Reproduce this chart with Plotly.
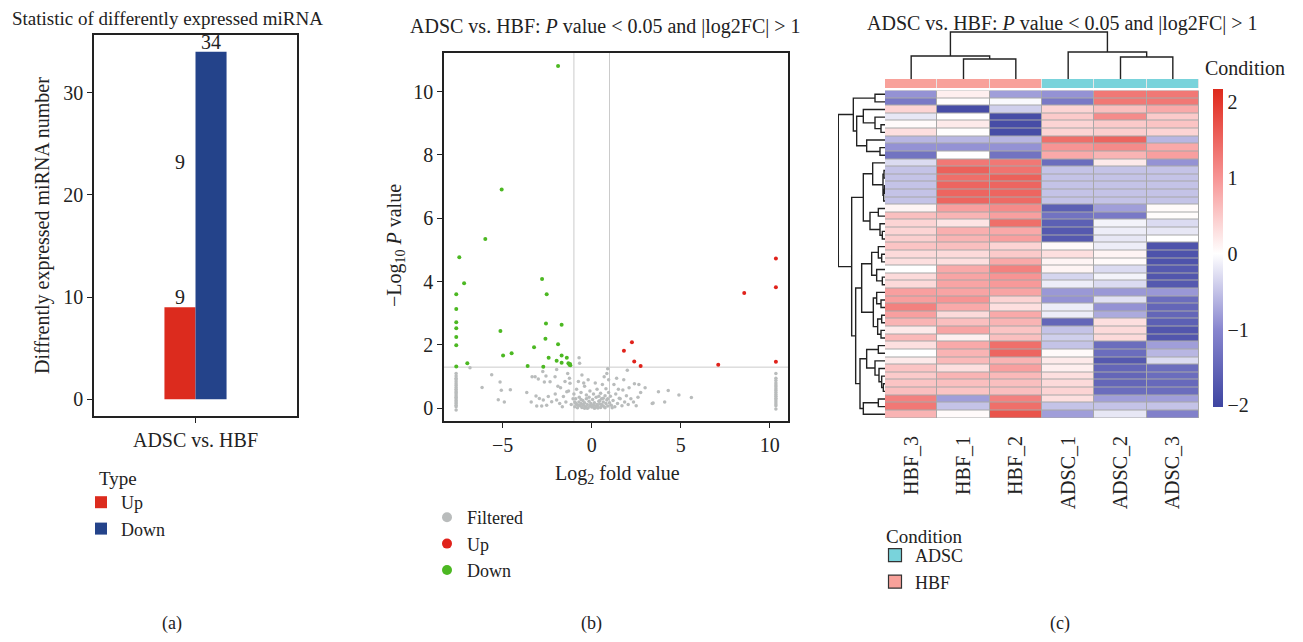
import math
import plotly.graph_objects as go

# the page adds an 8px body margin, so the figure is drawn 16px smaller
OFF = 8
W, H = 1303 - 2 * OFF, 642 - 2 * OFF
FONT = "Liberation Serif"

# ---- panel (a): counts of differently expressed miRNA
bar_types = ["Up", "Down"]
bar_counts = [9, 34]
bar_colors = ["#dc2b1e", "#24438a"]
# text labels as drawn in the original (one stray "9" sits mid-air)
label_text = ["9", "34", "9"]
label_group = [0, 1, 0]
label_y = [9, 34, 22.2]

# ---- panel (b): volcano plot
fc_cut = 1
p_cut = 0.05

down_x = [-1.89, -5.06, -5.98, -7.44, -7.17, -7.61, -7.61, -7.61, -7.61, -7.61, -7.61, -7.61,
          -6.99, -5.13, -4.98, -4.50, -2.79, -2.53, -2.57, -1.69, -2.60, -1.89, -3.24, -3.60,
          -2.72, -2.42, -1.97, -1.69, -1.69, -1.40, -1.31, -1.22, -1.25, -1.20]
down_y = [10.81, 6.91, 5.35, 4.77, 3.95, 3.60, 3.14, 2.72, 2.53, 2.25, 1.99, 1.32,
          1.42, 2.44, 1.67, 1.74, 4.08, 3.60, 2.68, 2.64, 2.20, 2.02, 1.93, 1.34,
          1.31, 1.60, 1.50, 1.67, 1.44, 1.60, 1.42, 1.40, 1.38, 1.36]

up_x = [10.35, 10.35, 8.57, 10.35, 7.11, 2.26, 1.81, 2.39, 2.75]
up_y = [4.73, 3.82, 3.64, 1.47, 1.38, 2.09, 1.82, 1.48, 1.34]

filt_x = ([-7.62] * 21 + [10.35] * 17 +
          [-6.84, -5.62, -5.15, -6.16, -5.08, -4.57, -5.25, -4.91, -3.65, -3.35, -3.18, -3.0,
           -2.75, -2.57, -2.66, -2.34, -1.97, -2.06,
           -0.95, -0.85, -0.8, -0.72, -0.65, -0.6, -0.55, -0.5, -0.45, -0.4, -0.35, -0.3,
           -0.25, -0.2, -0.15, -0.1, -0.05, 0.0, 0.05, 0.1, 0.15, 0.2, 0.25, 0.3, 0.35, 0.4,
           0.45, 0.5, 0.55, 0.6, 0.65, 0.7, 0.75, 0.8, 0.85, 0.9, 0.95, 1.0, -0.9, -0.7, -0.3,
           0.1, 0.5, -0.6, -0.1, 0.3, 0.8, -0.85, -0.4, 0.6, 0.95, 0.85, -0.75, -0.55, -0.45,
           0.2, -0.2, 0.7, -0.71, -0.68, 0.9, -0.95, -0.6, -0.15, 0.4, 0.65, 0.15, -0.4, 0.55,
           -0.75, 0.9, 1.05, -1.0, -0.25, 0.05, 0.35, -0.5, 0.25, 0.75, -0.9, 0.45,
           1.1, 1.2, 1.3, 1.35, 1.45, 1.5, 1.6, 1.7, 1.75, 1.85, 1.95, 2.05, 2.1, 2.2, 2.35,
           2.5, 2.6, 2.65, 2.75, 2.4, 3.0, 3.4, 3.45, 3.75, 4.1, 4.3, 4.9, 5.6, 1.4, 2.0, 1.8,
           1.25, 1.15, 1.55,
           -1.05, -1.15, -1.22, -1.3, -1.4, -1.45, -1.59, -1.65, -1.75, -1.8, -1.97, -2.05,
           -2.25, -2.44, -2.53, -2.72, -2.81, -2.94, -3.09, -3.13, -3.4, -1.35, -1.25, -1.5,
           -1.9])
filt_y = ([1.1, 1.02, 0.95, 0.9, 0.84, 0.78, 0.72, 0.66, 0.6, 0.55, 0.5, 0.45, 0.4, 0.35,
           0.3, 0.25, 0.2, 0.15, 0.1, 0.05, -0.05] +
          [1.1, 0.95, 0.88, 0.8, 0.74, 0.68, 0.62, 0.56, 0.5, 0.44, 0.38, 0.32, 0.26, 0.2,
           0.14, 0.08, -0.02] +
          [1.28, 1.06, 0.83, 0.66, 0.57, 0.59, 0.27, 0.2, 0.5, 1.0, 1.0, 0.93,
           1.16, 1.02, 0.83, 0.84, 1.23, 1.0,
           0.05, 0.12, 0.02, 0.2, 0.08, 0.15, 0.03, 0.25, 0.1, 0.18, 0.05, 0.3,
           0.12, 0.02, 0.22, 0.08, 0.15, 0.04, 0.28, 0.1, 0.18, 0.02, 0.35, 0.12, 0.06, 0.22,
           0.14, 0.03, 0.3, 0.09, 0.2, 0.05, 0.4, 0.15, 0.26, 0.07, 0.5, 0.18, 0.3, 0.35, 0.42,
           0.45, 0.48, 0.5, 0.55, 0.6, 0.62, 0.6, 0.7, 0.75, 0.9, 1.1, 0.85, 1.05, 0.8,
           0.8, 0.9, 1.0, 1.6, 1.42, 1.25, 0.2, 0.28, 0.35, 0.38, 0.32, 0.0, 0.0, 0.12,
           0.1, 0.3, 0.38, 0.45, 0.0, 0.1, 0.01, 0.12, 0.07, 0.02, 0.16, 0.24,
           0.1, 0.25, 0.05, 0.45, 0.15, 0.6, 0.3, 0.08, 0.58, 0.2, 0.4, 0.12, 0.65, 0.3, 0.2,
           0.08, 0.35, 0.75, 0.5, 0.78, 0.65, 0.15, 0.17, 0.52, 0.2, 0.56, 0.42, 0.34, 0.95,
           1.2, 0.9, 0.75, 0.02, 0.32,
           0.3, 0.12, 0.79, 0.55, 0.52, 0.2, 0.37, 0.05, 0.65, 0.15, 0.26, 0.45,
           0.21, 0.37, 0.1, 0.26, 0.07, 0.31, 0.07, 0.39, 0.2, 1.1, 0.95, 0.85,
           0.7])

# ---- panel (c): heatmap of z-scores
samples = ["HBF_3", "HBF_1", "HBF_2", "ADSC_1", "ADSC_2", "ADSC_3"]
conditions = ["HBF", "HBF", "HBF", "ADSC", "ADSC", "ADSC"]
cond_colors = {"ADSC": "#79d3db", "HBF": "#f8a19a"}
zscores = [
    [-0.9, 0.15, -0.8, -0.9, 1.3, 1.3],
    [-1.2, 0.02, -0.05, -1.2, 1.3, 1.3],
    [0.4, -1.9, -0.4, 0.4, 0.6, 0.8],
    [-0.2, 0.0, -1.9, 0.5, 1.1, 0.5],
    [0.05, 0.2, -1.9, 0.4, 0.5, 0.55],
    [0.3, 0.02, -1.9, 0.4, 0.45, 0.4],
    [-0.6, -0.6, -0.6, 1.4, 1.5, -0.6],
    [-0.9, -0.9, -0.9, 1.0, 1.1, 0.8],
    [-1.3, 0.0, -1.3, 0.8, 0.7, 0.9],
    [-0.3, 1.3, 1.3, -1.4, 0.2, -0.9],
    [-0.5, 1.55, 1.35, -0.5, -0.5, -0.5],
    [-0.5, 1.4, 1.55, -0.5, -0.5, -0.5],
    [-0.5, 1.5, 1.5, -0.5, -0.5, -0.5],
    [-0.5, 1.5, 1.5, -0.5, -0.5, -0.5],
    [-0.5, 1.5, 1.45, -0.5, -0.5, -0.5],
    [0.1, 0.9, 1.1, -1.6, -0.8, 0.05],
    [0.6, 0.7, 0.9, -1.3, -1.2, 0.03],
    [0.4, 0.25, 1.4, -1.6, -0.1, -0.3],
    [0.4, 0.75, 0.8, -1.7, -0.15, -0.2],
    [0.45, 0.7, 0.9, -1.7, -0.2, 0.0],
    [0.55, 0.6, 0.4, 0.05, -0.15, -1.8],
    [0.35, 0.35, 0.5, 0.3, 0.1, -1.8],
    [0.3, 0.3, 0.8, 0.1, 0.05, -1.8],
    [0.0, 0.8, 1.2, 0.1, -0.3, -1.7],
    [0.35, 0.85, 1.0, -0.35, -0.1, -1.75],
    [0.35, 0.85, 0.95, -0.15, -0.3, -1.7],
    [0.9, 0.85, 0.85, -0.85, -0.85, -0.85],
    [0.9, 1.0, 0.4, -0.9, -0.25, -1.4],
    [1.2, 0.8, 0.3, -0.15, -0.9, -1.5],
    [0.9, 0.35, 0.8, -0.15, -0.7, -1.5],
    [0.7, 0.6, 0.7, -1.5, 0.3, -1.6],
    [0.2, 0.85, 0.55, -0.5, 0.35, -1.75],
    [0.65, 0.15, 0.6, -0.4, 0.35, -1.75],
    [0.3, 0.8, 1.4, -0.5, -1.4, -0.8],
    [0.0, 0.7, 1.5, 0.05, -1.4, -0.6],
    [0.2, 0.65, 0.7, 0.2, -1.7, -0.3],
    [0.55, 0.3, 0.9, 0.15, -1.5, -1.4],
    [0.5, 0.7, 0.65, 0.3, -1.5, -1.4],
    [0.55, 0.6, 0.6, 0.35, -1.5, -1.45],
    [0.6, 0.55, 0.6, 0.4, -1.4, -1.4],
    [1.2, -0.8, 1.2, 0.3, -0.8, -0.8],
    [1.3, -0.5, 1.4, -0.5, -0.5, -0.5],
    [0.7, 0.05, 1.7, -0.8, -0.2, -1.1],
]

# hierarchical clustering trees: (left, right, height)
row_tree = (
    ((0, 1, 30),
     ((2, (3, (4, 5, 12), 30), 65),
      (6, (7, 8, 15), 55), 85), 95),
    (((9, ((10, 11, 3), ((12, 13, 2), 14, 4), 6), 37),
      ((15, 16, 20), (17, (18, 19, 8), 15), 45), 65),
     ((((20, (21, 22, 10), 20), (23, (24, 25, 8), 25), 40),
       ((26, (27, 28, 12), 25), ((29, 30, 10), (31, 32, 12), 22), 35), 70),
      (((33, 34, 20), (35, (36, (37, (38, 39, 5), 10), 18), 30), 55),
       ((40, 41, 20), 42, 65), 75), 88), 100),
    140)
col_tree = ((0, (1, 2, 20), 23), (3, (4, 5, 22), 27), 47)


def dendro(node):
    if isinstance(node, int):
        return node, 0, [], []
    left, right, h = node
    pl, hl, xl, yl = dendro(left)
    pr, hr, xr, yr = dendro(right)
    pos = xl + xr + [pl, pl, pr, pr, None]
    hts = yl + yr + [hl, h, h, hr, None]
    return (pl + pr) / 2, h, pos, hts


# pixel positions of the reference window -> paper fractions
def fx(px):
    return (px - OFF) / W


def fy(py):
    return 1 - (py - OFF) / H


def dx(a, b):
    return [fx(a), fx(b)]


def dy(top, bottom):
    return [fy(bottom), fy(top)]


fig = go.Figure()

# panel (a)
for i, t in enumerate(bar_types):
    fig.add_trace(go.Bar(x=[0], y=[bar_counts[i]], name=t, width=0.153,
                         offset=-0.153 + 0.153 * i, marker_color=bar_colors[i],
                         marker_line_width=0, legend="legend", xaxis="x", yaxis="y"))

# panel (b)
fig.add_trace(go.Scatter(x=filt_x, y=filt_y, mode="markers", showlegend=False,
                         marker=dict(size=3.5, color="#b9bcbc"), xaxis="x2", yaxis="y2"))
fig.add_trace(go.Scatter(x=up_x, y=up_y, mode="markers", showlegend=False,
                         marker=dict(size=4, color="#e0221b"), xaxis="x2", yaxis="y2"))
fig.add_trace(go.Scatter(x=down_x, y=down_y, mode="markers", showlegend=False,
                         marker=dict(size=4, color="#4cb822"), xaxis="x2", yaxis="y2"))
for nm, col in [("Filtered", "#b9bcbc"), ("Up", "#e0221b"), ("Down", "#4cb822")]:
    fig.add_trace(go.Scatter(x=[None], y=[None], mode="markers", name=nm,
                             marker=dict(size=10, color=col), legend="legend2",
                             xaxis="x2", yaxis="y2"))

# panel (c) heatmap
zmin, zmax = -2.02, 2.17
stops = [(-2.02, "#3e45a1"), (-1, "#8886cf"), (0, "#ffffff"), (1, "#f79494"),
         (2, "#e3372c"), (2.17, "#dd2a1c")]
cscale = [[(v - zmin) / (zmax - zmin), c] for v, c in stops]
rows = list(range(len(zscores)))
cols = list(range(len(samples)))
fig.add_trace(go.Heatmap(z=zscores, x=cols, y=rows, zmin=zmin, zmax=zmax,
                         colorscale=cscale, xgap=1, ygap=1, hoverinfo="skip",
                         colorbar=dict(x=fx(1203), xanchor="left", y=fy(248),
                                       yanchor="middle", lenmode="pixels", len=338,
                                       thickness=10, outlinewidth=0, ticks="",
                                       tickvals=[-2, -1, 0, 1, 2],
                                       tickfont=dict(size=20, family=FONT, color="#222")),
                         xaxis="x3", yaxis="y3"))
cond_names = list(cond_colors)
cond_z = [[cond_names.index(c) for c in conditions]]
fig.add_trace(go.Heatmap(z=cond_z, x=cols, y=[0], zmin=0, zmax=1, showscale=False,
                         colorscale=[[0, cond_colors["ADSC"]], [0.5, cond_colors["ADSC"]],
                                     [0.5, cond_colors["HBF"]], [1, cond_colors["HBF"]]],
                         xgap=1, hoverinfo="skip", xaxis="x4", yaxis="y4"))
for nm in cond_names:
    fig.add_trace(go.Scatter(x=[None], y=[None], mode="markers", name=nm,
                             marker=dict(size=13, symbol="square", color=cond_colors[nm],
                                         line=dict(color="#333", width=1.2)),
                             legend="legend3", xaxis="x4", yaxis="y4"))

_, _, cpos, chts = dendro(col_tree)
fig.add_trace(go.Scatter(x=cpos, y=chts, mode="lines", showlegend=False, hoverinfo="skip",
                         line=dict(color="#222", width=1.4), xaxis="x5", yaxis="y5"))
_, _, rpos, rhts = dendro(row_tree)
fig.add_trace(go.Scatter(x=rhts, y=rpos, mode="lines", showlegend=False, hoverinfo="skip",
                         line=dict(color="#222", width=1.4), xaxis="x6", yaxis="y6"))

tickfont = dict(size=20, family=FONT, color="#222")
box = dict(showline=True, mirror=True, linecolor="#222", linewidth=1.5, showgrid=False,
           zeroline=False, ticks="outside", ticklen=5, tickcolor="#222", tickfont=tickfont)
hidden = dict(visible=False, showgrid=False, zeroline=False)
legfont = dict(size=18, family=FONT, color="#222")

p_line = -math.log10(p_cut)
fig.update_layout(
    width=W, height=H, margin=dict(l=0, r=0, t=0, b=0),
    paper_bgcolor="white", plot_bgcolor="white", barmode="overlay",
    font=dict(family=FONT, size=20, color="#222"),
    xaxis=dict(domain=dx(94, 297), range=[-0.5, 0.5], tickvals=[0],
               ticktext=["ADSC vs. HBF"], anchor="y", **box),
    yaxis=dict(domain=dy(35, 416), range=[-1.63, 35.65], tickvals=[0, 10, 20, 30],
               anchor="x", **box),
    xaxis2=dict(domain=dx(444, 788), range=[-8.3, 11.03], tickvals=[-5, 0, 5, 10],
                anchor="y2", **box),
    yaxis2=dict(domain=dy(53, 421), range=[-0.4, 11.22], tickvals=[0, 2, 4, 6, 8, 10],
                anchor="x2", **box),
    xaxis3=dict(domain=dx(885, 1199), range=[-0.5, 5.5], tickvals=cols, ticktext=samples,
                tickangle=-90, ticks="outside", ticklen=9, tickcolor="rgba(0,0,0,0)",
                showgrid=False, zeroline=False, showline=False, tickfont=tickfont,
                anchor="y3"),
    yaxis3=dict(domain=dy(90.5, 418), range=[len(rows) - 0.5, -0.5], anchor="x3", **hidden),
    xaxis4=dict(domain=dx(885, 1199), range=[-0.5, 5.5], anchor="y4", **hidden),
    yaxis4=dict(domain=dy(79, 88), range=[-0.5, 0.5], anchor="x4", **hidden),
    xaxis5=dict(domain=dx(885, 1199), range=[-0.5, 5.5], anchor="y5", **hidden),
    yaxis5=dict(domain=dy(28, 79), range=[0, 51], anchor="x5", **hidden),
    xaxis6=dict(domain=dx(838, 885), range=[141, 0], anchor="y6", **hidden),
    yaxis6=dict(domain=dy(90.5, 418), range=[len(rows) - 0.5, -0.5], anchor="x6", **hidden),
    legend=dict(x=fx(81), y=fy(484), xanchor="left", yanchor="top",
                bgcolor="rgba(0,0,0,0)", font=legfont, tracegroupgap=0),
    legend2=dict(x=fx(427), y=fy(499), xanchor="left", yanchor="top",
                 bgcolor="rgba(0,0,0,0)", font=legfont, tracegroupgap=0),
    legend3=dict(x=fx(875), y=fy(537), xanchor="left", yanchor="top",
                 bgcolor="rgba(0,0,0,0)", font=legfont, tracegroupgap=0),
    shapes=[
        dict(type="rect", xref="x3 domain", yref="y3 domain", x0=0, x1=1, y0=0, y1=1,
             fillcolor="#a8a8a8", line_width=0, layer="below"),
        dict(type="rect", xref="x4 domain", yref="y4 domain", x0=0, x1=1, y0=0, y1=1,
             fillcolor="#e6e6e6", line_width=0, layer="below"),
        dict(type="line", xref="x2", yref="y2 domain", x0=-fc_cut, x1=-fc_cut, y0=0, y1=1,
             line=dict(color="#cbcbcb", width=1), layer="below"),
        dict(type="line", xref="x2", yref="y2 domain", x0=fc_cut, x1=fc_cut, y0=0, y1=1,
             line=dict(color="#cbcbcb", width=1), layer="below"),
        dict(type="line", xref="x2 domain", yref="y2", x0=0, x1=1, y0=p_line, y1=p_line,
             line=dict(color="#cbcbcb", width=1), layer="below"),
    ],
)

ann = []
for t, g, yv in zip(label_text, label_group, label_y):
    ann.append(dict(text=t, x=-0.0765 + 0.153 * g, y=yv, xref="x", yref="y",
                    xanchor="center", yanchor="bottom", showarrow=False, yshift=-3))
titles = [
    ("Statistic of differently expressed miRNA", 10, 19, "left", 19),
    ("ADSC vs. HBF: <i>P</i> value &lt; 0.05 and |log2FC| &gt; 1", 605, 26, "center", 20),
    ("ADSC vs. HBF: <i>P</i> value &lt; 0.05 and |log2FC| &gt; 1", 1062, 23, "center", 20),
    ("Log<sub>2</sub> fold value", 617, 474, "center", 20),
    ("Condition", 1203, 68, "left", 20),
    ("Type", 97, 478, "left", 19),
    ("Condition", 884, 536, "left", 19),
    ("(a)", 172, 623, "center", 18),
    ("(b)", 591, 623, "center", 18),
    ("(c)", 1060, 623, "center", 18),
]
for t, x, y, anc, sz in titles:
    ann.append(dict(text=t, x=fx(x), y=fy(y), xref="paper", yref="paper",
                    xanchor=anc, yanchor="middle", showarrow=False, font=dict(size=sz)))
ann.append(dict(text="Diffrently expressed miRNA number", x=fx(43), y=fy(226),
                xref="paper", yref="paper", textangle=-90, xanchor="center",
                yanchor="middle", showarrow=False))
ann.append(dict(text="\u2212Log<sub>10</sub> <i>P</i> value", x=fx(395), y=fy(245),
                xref="paper", yref="paper", textangle=-90, xanchor="center",
                yanchor="middle", showarrow=False))
fig.update_layout(annotations=ann)

fig.write_html("out.html")
